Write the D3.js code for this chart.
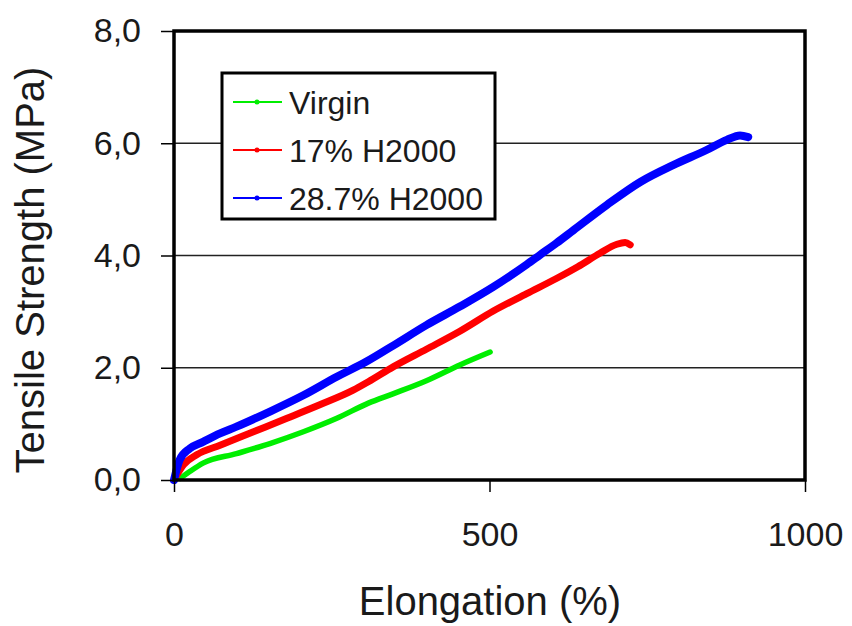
<!DOCTYPE html>
<html><head><meta charset="utf-8">
<script src="https://cdn.jsdelivr.net/npm/d3@7"></script>
<style>body{margin:0;background:#fff}text{font-family:"Liberation Sans",Arial,sans-serif;fill:#1a1a1a}</style>
</head><body><svg id="c" width="852" height="626"></svg>
<script>
const xTicks=[0,500,1000];
const yTicks=[0,2,4,6,8];
const yTickLabels=["0,0","2,0","4,0","6,0","8,0"];
const seriesNames=["Virgin","17% H2000","28.7% H2000"];
const seriesColors=["#00ee00","#ff0000","#0000ff"];
const virginX=[10,25,46,99,152,205,258,308,348,400,453,501];
const virginY=[0.03,0.15,0.30,0.47,0.65,0.86,1.10,1.37,1.54,1.77,2.05,2.28];
const h17X=[0,15,36,73,126,179,231,284,308,348,400,453,506,559,606,640,675,702,715,723];
const h17Y=[0.0,0.27,0.45,0.62,0.86,1.10,1.34,1.60,1.75,2.02,2.33,2.65,3.01,3.32,3.59,3.80,4.04,4.20,4.23,4.19];
const h287X=[0,9,25,46,73,99,152,205,258,305,348,400,453,506,559,580,606,633,686,739,791,844,876,897,910];
const h287Y=[0.0,0.36,0.56,0.68,0.83,0.95,1.22,1.51,1.84,2.11,2.40,2.76,3.09,3.44,3.84,4.01,4.22,4.45,4.90,5.31,5.61,5.88,6.06,6.14,6.11];

const svg=d3.select("#c");
const x=d3.scaleLinear().domain([0,1000]).range([174,805]);
const y=d3.scaleLinear().domain([0,8]).range([480,31]);

// gridlines
svg.append("g").selectAll("line").data([2,4,6]).join("line")
 .attr("x1",x(0)).attr("x2",x(1000)).attr("y1",d=>y(d)).attr("y2",d=>y(d))
 .attr("stroke","#222").attr("stroke-width",1.5);

// series
const series=[[virginX,virginY,5.5],[h17X,h17Y,7],[h287X,h287Y,8]];
const line=d3.line().x(d=>x(d[0])).y(d=>y(d[1])).curve(d3.curveMonotoneX);
series.forEach((s,i)=>{
  const pts=s[0].map((v,j)=>[v,s[1][j]]);
  svg.append("path").attr("d",line(pts)).attr("fill","none")
   .attr("stroke",seriesColors[i]).attr("stroke-width",s[2])
   .attr("stroke-linejoin","round").attr("stroke-linecap","round");
});

// frame
svg.append("rect").attr("x",x(0)).attr("y",y(8)).attr("width",x(1000)-x(0)).attr("height",y(0)-y(8))
 .attr("fill","none").attr("stroke","#000").attr("stroke-width",3.5);

// y axis
const ya=svg.append("g").attr("transform",`translate(${x(0)},0)`)
 .call(d3.axisLeft(y).tickValues(yTicks).tickSize(13).tickPadding(20).tickFormat((d,i)=>yTickLabels[i]));
ya.select(".domain").remove();
ya.selectAll(".tick line").attr("stroke","#000").attr("stroke-width",1.5);
ya.selectAll(".tick text").attr("font-size",34).attr("fill","#1a1a1a").style("font-family","Liberation Sans, Arial, sans-serif");

// x axis
const xa=svg.append("g").attr("transform",`translate(0,${y(0)})`)
 .call(d3.axisBottom(x).tickValues(xTicks).tickSize(12).tickPadding(30).tickFormat(d3.format("d")));
xa.select(".domain").remove();
xa.selectAll(".tick line").attr("stroke","#000").attr("stroke-width",1.5);
xa.selectAll(".tick text").attr("font-size",34).attr("fill","#1a1a1a").style("font-family","Liberation Sans, Arial, sans-serif");

// titles
svg.append("text").attr("x",490).attr("y",615).attr("text-anchor","middle").attr("font-size",40).text("Elongation (%)");
svg.append("text").attr("transform","translate(44,270) rotate(-90)").attr("text-anchor","middle").attr("font-size",40).text("Tensile Strength (MPa)");

// legend
const lg=svg.append("g");
lg.append("rect").attr("x",222).attr("y",73).attr("width",273).attr("height",146)
 .attr("fill","#fff").attr("stroke","#000").attr("stroke-width",3);
seriesNames.forEach((n,i)=>{
  const cy=102+i*48;
  lg.append("line").attr("x1",233).attr("x2",282).attr("y1",cy).attr("y2",cy).attr("stroke",seriesColors[i]).attr("stroke-width",2);
  lg.append("circle").attr("cx",257).attr("cy",cy).attr("r",2.5).attr("fill",seriesColors[i]);
  lg.append("text").attr("x",289).attr("y",cy+12).attr("font-size",32).text(n);
});
</script></body></html>
